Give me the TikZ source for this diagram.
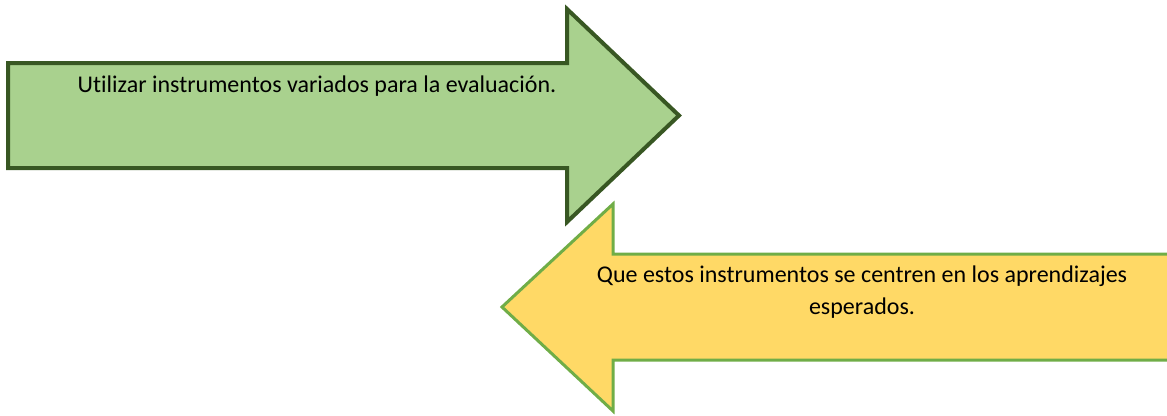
\documentclass[tikz,border=0pt]{standalone}
\usepackage{fontspec}
\setmainfont{Carlito}[Ligatures=NoCommon]
\usetikzlibrary{positioning}
\definecolor{leaf}{RGB}{169,209,142}
\definecolor{darkleaf}{RGB}{56,87,35}
\definecolor{sun}{RGB}{255,217,102}
\definecolor{grass}{RGB}{112,173,71}
\tikzset{
    % Right arrow
    G/.style={
        draw=darkleaf,
        fill=leaf,
        line width=3pt,
    },
    % Left arrow
    Y/.style={
        draw=grass,
        fill=sun,
        line width=2.25pt,
    },
    % Text inside an arrow
    T/.style={
        font=\fontsize{18}{24}\selectfont,
        text=black,
        align=center,
        inner sep=0pt,
    },
}

\begin{document}
\begin{tikzpicture}[x=0.75pt,y=-0.75pt]
\useasboundingbox (0,0) rectangle (1167,415);
% Arrow 1
\draw[G] (8,63) -- (567,63) -- (567,9) -- (679,115.5)
    -- (567,222) -- (567,168) -- (8,168) -- cycle;
\node[T,anchor=base] (A1) at (317,92) {Utilizar instrumentos variados para la evaluación.};
% Arrow 2
\draw[Y] (1175,254) -- (613,254) -- (613,204) -- (502,307)
    -- (613,411) -- (613,360) -- (1175,360) -- cycle;
\node[T,anchor=base] (A2) at (862,314) {Que estos instrumentos se centren en los aprendizajes\\esperados.};
\end{tikzpicture}
\end{document}
